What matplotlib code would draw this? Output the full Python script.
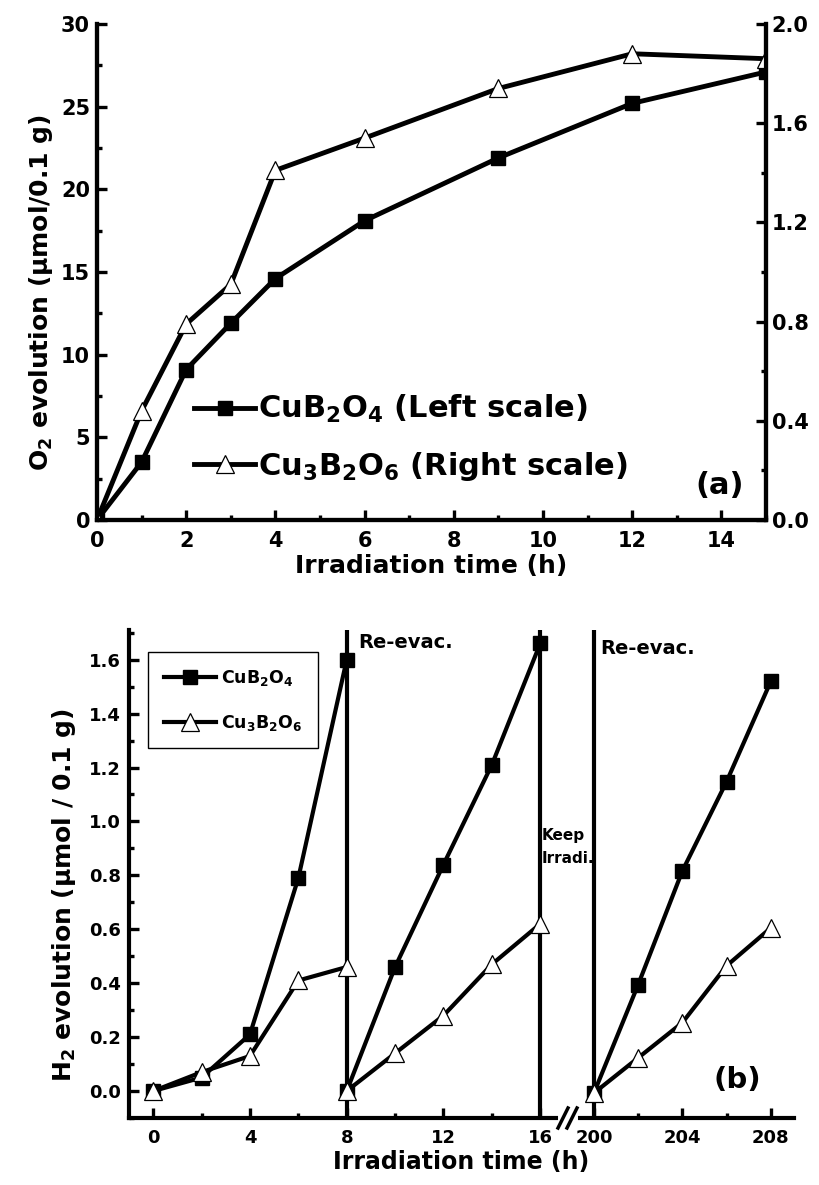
import matplotlib
matplotlib.use("Agg")
import matplotlib.pyplot as plt
from matplotlib.lines import Line2D
import numpy as np

plt.rcParams['font.family'] = ['DejaVu Sans']
plt.rcParams['font.weight'] = 'bold'
plt.rcParams['axes.labelweight'] = 'bold'
plt.rcParams['mathtext.fontset'] = 'custom'
plt.rcParams['mathtext.rm'] = 'DejaVu Sans:bold'
plt.rcParams['mathtext.it'] = 'DejaVu Sans:bold'
plt.rcParams['mathtext.bf'] = 'DejaVu Sans:bold'

# panel (a): O2 evolution
t_a = [0, 1, 2, 3, 4, 6, 9, 12, 15]
o2_cub2o4 = [0, 3.5, 9.1, 11.9, 14.6, 18.1, 21.9, 25.2, 27.1]      # left scale
o2_cu3b2o6 = [0, 0.44, 0.79, 0.95, 1.41, 1.54, 1.74, 1.88, 1.86]   # right scale

# panel (b): H2 evolution, three runs
runs_t = [[0, 2, 4, 6, 8], [8, 10, 12, 14, 16], [200, 202, 204, 206, 208]]
h2_cub2o4 = [[0, 0.05, 0.21, 0.79, 1.60], [0, 0.46, 0.84, 1.21, 1.66], [0, 0.40, 0.82, 1.15, 1.52]]
h2_cu3b2o6 = [[0, 0.07, 0.13, 0.41, 0.46], [0, 0.14, 0.28, 0.47, 0.62], [0, 0.13, 0.26, 0.47, 0.61]]
evac_lines = [8, 16, 200]

W, H = 819, 1185
fig = plt.figure(figsize=(W / 100, H / 100), dpi=100)


def box(x0, y0, x1, y1):
    return [x0 / W, 1 - y1 / H, (x1 - x0) / W, (y1 - y0) / H]


def style(ax, size):
    ax.tick_params(which='both', direction='in', width=2.4, labelsize=size)
    ax.tick_params(which='major', length=7)
    ax.tick_params(which='minor', length=3.5)
    for s in ax.spines.values():
        s.set_linewidth(3)
    ax.spines['top'].set_visible(False)


sq = dict(marker='s', ms=9.5, color='black', lw=3.5, mfc='black', mec='black')
tri = dict(marker='^', ms=13, color='black', lw=3.5, mfc='white', mec='black', mew=0.9)

# ---------- (a) ----------
ax1 = fig.add_axes(box(97, 24, 766, 520))
ax2 = ax1.twinx()
style(ax1, 15)
style(ax2, 15)
ax1.plot(t_a, o2_cub2o4, **sq, label=r'CuB$_2$O$_4$ (Left scale)')
ax2.plot(t_a, o2_cu3b2o6, **tri, label=r'Cu$_3$B$_2$O$_6$ (Right scale)')
ax1.set_xlim(0, 15)
ax1.set_ylim(0, 30)
ax2.set_ylim(0, 2.0)
ax1.set_xticks(np.arange(0, 15, 2))
ax1.set_xticks(np.arange(0, 16, 1), minor=True)
ax1.set_yticks(np.arange(0, 31, 5))
ax1.set_yticks(np.arange(0, 30.1, 2.5), minor=True)
ax2.set_yticks(np.arange(0, 2.01, 0.4))
ax2.set_yticks(np.arange(0, 2.01, 0.2), minor=True)
ax2.set_yticklabels([f'{v:.1f}' for v in np.arange(0, 2.01, 0.4)])
ax1.tick_params(axis='x', pad=8)
ax1.tick_params(axis='y', pad=5)
ax2.tick_params(axis='y', pad=4)
ax1.set_xlabel('Irradiation time (h)', fontsize=18, labelpad=2)
ax1.set_ylabel('O$_2$ evolution (µmol/0.1 g)', fontsize=18, labelpad=4, y=0.458)
h1, l1 = ax1.get_legend_handles_labels()
h2, l2 = ax2.get_legend_handles_labels()
ax1.legend(h1 + h2, l1 + l2, loc='upper left', bbox_to_anchor=(182 / W, 1 - 381 / H),
           bbox_transform=fig.transFigure, frameon=False, fontsize=22,
           handlelength=2.0, handletextpad=0.1, labelspacing=0.8, borderaxespad=0)
fig.text(720 / W, 1 - 485 / H, '(a)', fontsize=22, ha='center', va='center')

# ---------- (b) ----------
axl = fig.add_axes(box(129, 630, 562, 1118))
axr = fig.add_axes(box(574, 630, 794, 1118))
for ax in (axl, axr):
    style(ax, 13)
    ax.spines['right'].set_visible(False)
    ax.set_ylim(-0.092, 1.71)
    ax.tick_params(axis='x', pad=8)
axr.spines['left'].set_visible(False)
axr.tick_params(axis='y', which='both', left=False, labelleft=False)

sqb = dict(sq, lw=3, ms=10)
trib = dict(tri, lw=3, ms=13)
for k, (t, a, b) in enumerate(zip(runs_t, h2_cub2o4, h2_cu3b2o6)):
    ax = axr if t[0] >= 200 else axl
    ax.plot(t, a, **sqb, label=r'CuB$_2$O$_4$' if k == 0 else None)
    ax.plot(t, b, **trib, label=r'Cu$_3$B$_2$O$_6$' if k == 0 else None)
for v in evac_lines:
    ax = axr if v >= 200 else axl
    ax.axvline(v, color='black', lw=3, zorder=1)

axl.set_xlim(-1, 16.9)
axr.set_xlim(199.1, 209.05)
axl.set_xticks([0, 4, 8, 12, 16])
axl.set_xticks([2, 6, 10, 14], minor=True)
axr.set_xticks([200, 204, 208])
axr.set_xticks([202, 206], minor=True)
axl.set_yticks(np.arange(0, 1.61, 0.2))
axl.set_yticks(np.arange(-0.1, 1.71, 0.1), minor=True)
axl.set_yticklabels([f'{v:.1f}' for v in np.arange(0, 1.61, 0.2)])
axl.tick_params(axis='y', pad=6)
axl.set_ylabel('H$_2$ evolution (µmol / 0.1 g)', fontsize=18, labelpad=8, y=0.457)
fig.text((129 + 794) / 2 / W, 1 - 1162 / H, 'Irradiation time (h)', fontsize=17,
         ha='center', va='center')

leg = axl.legend(loc='upper left', bbox_to_anchor=(148 / W, 1 - 652 / H), bbox_transform=fig.transFigure,
                 fontsize=12.5, fancybox=False, edgecolor='black', framealpha=1, handlelength=3.0,
                 handletextpad=0.3, labelspacing=1.45, borderpad=0.9, borderaxespad=0)
leg.get_frame().set_linewidth(1)

fig.text(358 / W, 1 - 643 / H, 'Re-evac.', fontsize=14, ha='left', va='center')
fig.text(600 / W, 1 - 649 / H, 'Re-evac.', fontsize=14, ha='left', va='center')
fig.text(542 / W, 1 - 847 / H, 'Keep\nIrradi.', fontsize=11, ha='left', va='center', linespacing=1.6)
fig.text(737 / W, 1 - 1080 / H, '(b)', fontsize=21, ha='center', va='center')

# axis break marks
fig.add_artist(Line2D([561 / W, 574 / W], [1 - 1118 / H, 1 - 1118 / H], color='white', lw=5,
                      transform=fig.transFigure, zorder=5))
for dx in (0, 9):
    fig.add_artist(Line2D([(558 + dx) / W, (568 + dx) / W], [1 - 1128 / H, 1 - 1108 / H],
                          color='black', lw=2.5, transform=fig.transFigure, zorder=6))

fig.savefig('out.png', dpi=100)
